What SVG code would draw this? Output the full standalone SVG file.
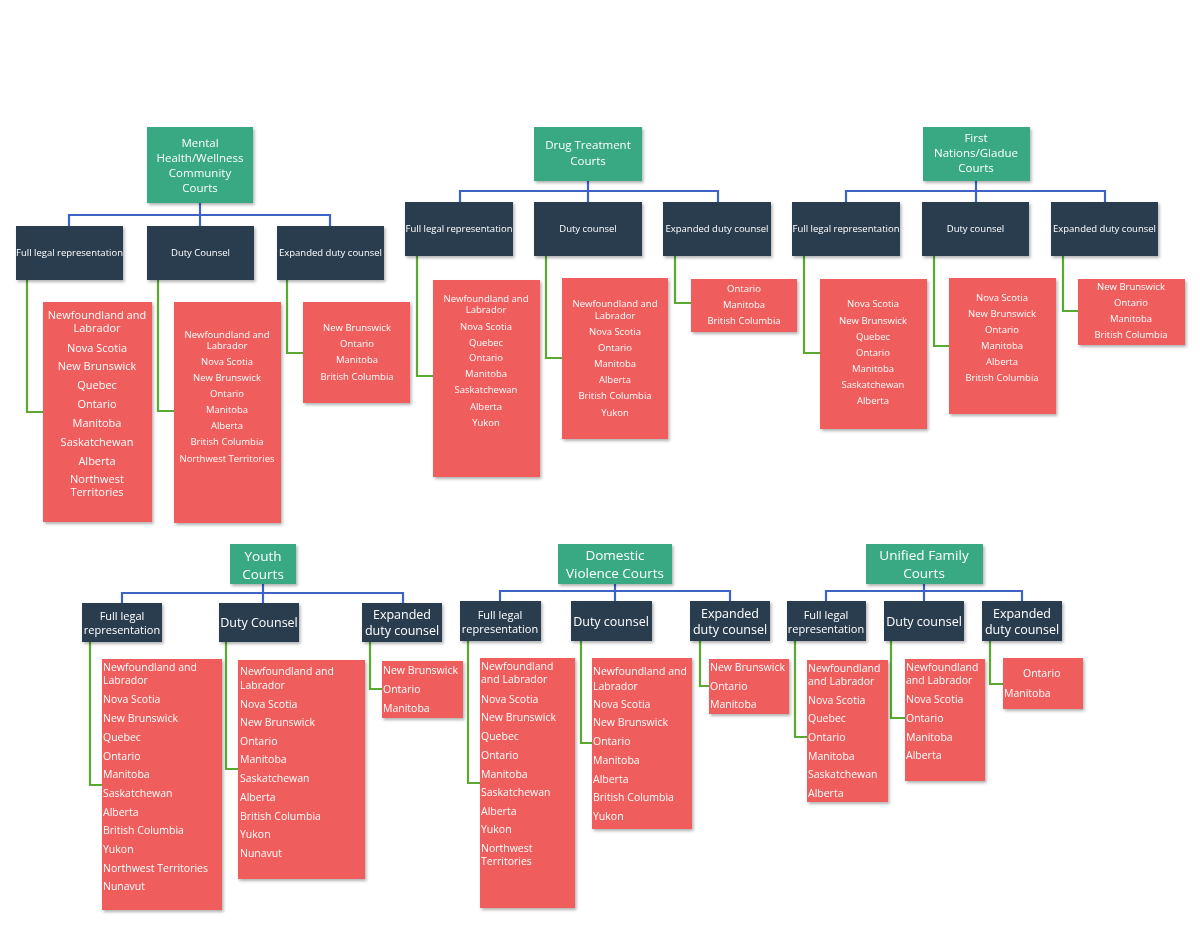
<svg xmlns="http://www.w3.org/2000/svg" width="1200" height="927" viewBox="0 0 1200 927">
<style>
text{font-family:"Open Sans","Noto Sans",sans-serif;fill:#fff}
.g{fill:#37a983}.n{fill:#2c3e50}.r{fill:#f05d5d}
.b{stroke:#3d63c6;stroke-width:2.2;fill:none}
.l{stroke:#5aaa32;stroke-width:2.2;fill:none}
.t1{font-size:11.5px;text-anchor:middle}
.t2{font-size:9.5px;text-anchor:middle}
.t3{font-size:10px;text-anchor:middle}
.t4{font-size:10.5px}
.t5{font-size:13.5px;text-anchor:middle}
.t6{font-size:12.5px;text-anchor:middle}
.t7{font-size:11px;text-anchor:middle}
</style>
<defs><filter id="s" x="-10%" y="-10%" width="130%" height="130%"><feDropShadow dx="1.5" dy="2" stdDeviation="1.5" flood-opacity="0.3"/></filter></defs>
<rect width="1200" height="927" fill="#fff"/>
<g id="connectors">
<path class="b" d="M200 203V215M69 226V215H330V226M200 215V226"/>
<path class="l" d="M27 280V412H43M158 280V411H174M287 280V353H303"/>
<path class="b" d="M588 181V191M460 202V191H718V202M588 191V202"/>
<path class="l" d="M417 256V376H433M546 256V358H562M675 256V303H691"/>
<path class="b" d="M976 181V191M846 202V191H1105V202M976 191V202"/>
<path class="l" d="M804 256V353H820M934 256V346H949M1063 256V311H1078"/>
<path class="b" d="M263 584V593M122 603V593H403V603M263 593V603"/>
<path class="l" d="M90 642V785H102M226 642V769H238M370 642V689H382"/>
<path class="b" d="M615 584V591M500 601V591H730V601M615 591V601"/>
<path class="l" d="M468 641V783H480M581 641V743H592M700 641V686H710"/>
<path class="b" d="M924 584V591M826 601V591H1022V601M924 591V601"/>
<path class="l" d="M795 641V737H807M891 641V718H905M990 641V684H1003"/>
</g>
<g id="mh" filter="url(#s)">
<rect class="g" x="147" y="127" width="106" height="76"/>
<text class="t1"><tspan x="200" y="147">Mental</tspan><tspan x="200" y="162">Health/Wellness</tspan><tspan x="200" y="177">Community</tspan><tspan x="200" y="192">Courts</tspan></text>
<rect class="n" x="16" y="226" width="107" height="54"/><text class="t2" x="69.5" y="256">Full legal representation</text>
<rect class="n" x="147" y="226" width="107" height="54"/><text class="t2" x="200.5" y="256">Duty Counsel</text>
<rect class="n" x="277" y="226" width="107" height="54"/><text class="t2" x="330.5" y="256">Expanded duty counsel</text>
<rect class="r" x="43" y="302" width="109" height="220"/>
<text class="t7"><tspan x="97" y="319">Newfoundland and</tspan><tspan x="97" y="332">Labrador</tspan><tspan x="97" y="352">Nova Scotia</tspan><tspan x="97" y="370">New Brunswick</tspan><tspan x="97" y="389">Quebec</tspan><tspan x="97" y="408">Ontario</tspan><tspan x="97" y="427">Manitoba</tspan><tspan x="97" y="446">Saskatchewan</tspan><tspan x="97" y="465">Alberta</tspan><tspan x="97" y="483">Northwest</tspan><tspan x="97" y="496">Territories</tspan></text>
<rect class="r" x="174" y="302" width="107" height="221"/>
<text class="t2"><tspan x="227" y="338">Newfoundland and</tspan><tspan x="227" y="349">Labrador</tspan><tspan x="227" y="365">Nova Scotia</tspan><tspan x="227" y="381">New Brunswick</tspan><tspan x="227" y="397">Ontario</tspan><tspan x="227" y="413">Manitoba</tspan><tspan x="227" y="429">Alberta</tspan><tspan x="227" y="445">British Columbia</tspan><tspan x="227" y="462">Northwest Territories</tspan></text>
<rect class="r" x="303" y="302" width="107" height="101"/>
<text class="t2"><tspan x="357" y="331">New Brunswick</tspan><tspan x="357" y="347">Ontario</tspan><tspan x="357" y="363">Manitoba</tspan><tspan x="357" y="380">British Columbia</tspan></text>
</g>
<g id="drug" filter="url(#s)">
<rect class="g" x="534" y="127" width="108" height="54"/>
<text class="t1"><tspan x="588" y="149">Drug Treatment</tspan><tspan x="588" y="165">Courts</tspan></text>
<rect class="n" x="405" y="202" width="108" height="54"/><text class="t2" x="459" y="232">Full legal representation</text>
<rect class="n" x="534" y="202" width="108" height="54"/><text class="t2" x="588" y="232">Duty counsel</text>
<rect class="n" x="663" y="202" width="108" height="54"/><text class="t2" x="717" y="232">Expanded duty counsel</text>
<rect class="r" x="433" y="280" width="107" height="197"/>
<text class="t2"><tspan x="486" y="302">Newfoundland and</tspan><tspan x="486" y="313">Labrador</tspan><tspan x="486" y="330">Nova Scotia</tspan><tspan x="486" y="346">Quebec</tspan><tspan x="486" y="361">Ontario</tspan><tspan x="486" y="377">Manitoba</tspan><tspan x="486" y="393">Saskatchewan</tspan><tspan x="486" y="410">Alberta</tspan><tspan x="486" y="426">Yukon</tspan></text>
<rect class="r" x="562" y="278" width="106" height="161"/>
<text class="t2"><tspan x="615" y="307">Newfoundland and</tspan><tspan x="615" y="319">Labrador</tspan><tspan x="615" y="335">Nova Scotia</tspan><tspan x="615" y="351">Ontario</tspan><tspan x="615" y="367">Manitoba</tspan><tspan x="615" y="383">Alberta</tspan><tspan x="615" y="399">British Columbia</tspan><tspan x="615" y="416">Yukon</tspan></text>
<rect class="r" x="691" y="279" width="106" height="53"/>
<text class="t2"><tspan x="744" y="292">Ontario</tspan><tspan x="744" y="308">Manitoba</tspan><tspan x="744" y="324">British Columbia</tspan></text>
</g>
<g id="fn" filter="url(#s)">
<rect class="g" x="923" y="127" width="107" height="54"/>
<text class="t1"><tspan x="976" y="142">First</tspan><tspan x="976" y="157">Nations/Gladue</tspan><tspan x="976" y="172">Courts</tspan></text>
<rect class="n" x="792" y="202" width="108" height="54"/><text class="t2" x="846" y="232">Full legal representation</text>
<rect class="n" x="922" y="202" width="107" height="54"/><text class="t2" x="975.5" y="232">Duty counsel</text>
<rect class="n" x="1051" y="202" width="107" height="54"/><text class="t2" x="1104.5" y="232">Expanded duty counsel</text>
<rect class="r" x="820" y="279" width="107" height="150"/>
<text class="t2"><tspan x="873" y="307">Nova Scotia</tspan><tspan x="873" y="324">New Brunswick</tspan><tspan x="873" y="340">Quebec</tspan><tspan x="873" y="356">Ontario</tspan><tspan x="873" y="372">Manitoba</tspan><tspan x="873" y="388">Saskatchewan</tspan><tspan x="873" y="404">Alberta</tspan></text>
<rect class="r" x="949" y="278" width="107" height="136"/>
<text class="t2"><tspan x="1002" y="301">Nova Scotia</tspan><tspan x="1002" y="317">New Brunswick</tspan><tspan x="1002" y="333">Ontario</tspan><tspan x="1002" y="349">Manitoba</tspan><tspan x="1002" y="365">Alberta</tspan><tspan x="1002" y="381">British Columbia</tspan></text>
<rect class="r" x="1078" y="279" width="107" height="66"/>
<text class="t2"><tspan x="1131" y="290">New Brunswick</tspan><tspan x="1131" y="306">Ontario</tspan><tspan x="1131" y="322">Manitoba</tspan><tspan x="1131" y="338">British Columbia</tspan></text>
</g>
<g id="youth" filter="url(#s)">
<rect class="g" x="230" y="544" width="66" height="40"/>
<text class="t5"><tspan x="263" y="561">Youth</tspan><tspan x="263" y="579">Courts</tspan></text>
<rect class="n" x="82" y="603" width="80" height="39"/><text class="t7"><tspan x="122" y="620">Full legal</tspan><tspan x="122" y="634">representation</tspan></text>
<rect class="n" x="219" y="603" width="80" height="39"/><text class="t6" x="259" y="627">Duty Counsel</text>
<rect class="n" x="362" y="603" width="80" height="39"/><text class="t6"><tspan x="402" y="619">Expanded</tspan><tspan x="402" y="635">duty counsel</tspan></text>
<rect class="r" x="102" y="659" width="120" height="251"/>
<text class="t4"><tspan x="103" y="671">Newfoundland and</tspan><tspan x="103" y="684">Labrador</tspan><tspan x="103" y="703">Nova Scotia</tspan><tspan x="103" y="722">New Brunswick</tspan><tspan x="103" y="741">Quebec</tspan><tspan x="103" y="760">Ontario</tspan><tspan x="103" y="778">Manitoba</tspan><tspan x="103" y="797">Saskatchewan</tspan><tspan x="103" y="816">Alberta</tspan><tspan x="103" y="834">British Columbia</tspan><tspan x="103" y="853">Yukon</tspan><tspan x="103" y="872">Northwest Territories</tspan><tspan x="103" y="890">Nunavut</tspan></text>
<rect class="r" x="238" y="660" width="127" height="219"/>
<text class="t4"><tspan x="240" y="675">Newfoundland and</tspan><tspan x="240" y="689">Labrador</tspan><tspan x="240" y="708">Nova Scotia</tspan><tspan x="240" y="726">New Brunswick</tspan><tspan x="240" y="745">Ontario</tspan><tspan x="240" y="763">Manitoba</tspan><tspan x="240" y="782">Saskatchewan</tspan><tspan x="240" y="801">Alberta</tspan><tspan x="240" y="820">British Columbia</tspan><tspan x="240" y="838">Yukon</tspan><tspan x="240" y="857">Nunavut</tspan></text>
<rect class="r" x="382" y="661" width="81" height="57"/>
<text class="t4"><tspan x="383" y="674">New Brunswick</tspan><tspan x="383" y="693">Ontario</tspan><tspan x="383" y="712">Manitoba</tspan></text>
</g>
<g id="dv" filter="url(#s)">
<rect class="g" x="558" y="544" width="114" height="40"/>
<text class="t5"><tspan x="615" y="560">Domestic</tspan><tspan x="615" y="578">Violence Courts</tspan></text>
<rect class="n" x="460" y="601" width="81" height="40"/><text class="t7"><tspan x="500" y="619">Full legal</tspan><tspan x="500" y="633">representation</tspan></text>
<rect class="n" x="571" y="601" width="81" height="40"/><text class="t6" x="611" y="626">Duty counsel</text>
<rect class="n" x="690" y="601" width="80" height="40"/><text class="t6"><tspan x="730" y="618">Expanded</tspan><tspan x="730" y="634">duty counsel</tspan></text>
<rect class="r" x="480" y="658" width="95" height="250"/>
<text class="t4"><tspan x="481" y="670">Newfoundland</tspan><tspan x="481" y="683">and Labrador</tspan><tspan x="481" y="703">Nova Scotia</tspan><tspan x="481" y="721">New Brunswick</tspan><tspan x="481" y="740">Quebec</tspan><tspan x="481" y="759">Ontario</tspan><tspan x="481" y="778">Manitoba</tspan><tspan x="481" y="796">Saskatchewan</tspan><tspan x="481" y="815">Alberta</tspan><tspan x="481" y="833">Yukon</tspan><tspan x="481" y="852">Northwest</tspan><tspan x="481" y="865">Territories</tspan></text>
<rect class="r" x="592" y="658" width="100" height="171"/>
<text class="t4"><tspan x="593" y="675">Newfoundland and</tspan><tspan x="593" y="690">Labrador</tspan><tspan x="593" y="708">Nova Scotia</tspan><tspan x="593" y="726">New Brunswick</tspan><tspan x="593" y="745">Ontario</tspan><tspan x="593" y="764">Manitoba</tspan><tspan x="593" y="783">Alberta</tspan><tspan x="593" y="801">British Columbia</tspan><tspan x="593" y="820">Yukon</tspan></text>
<rect class="r" x="709" y="659" width="80" height="55"/>
<text class="t4"><tspan x="710" y="671">New Brunswick</tspan><tspan x="710" y="690">Ontario</tspan><tspan x="710" y="708">Manitoba</tspan></text>
</g>
<g id="uf" filter="url(#s)">
<rect class="g" x="866" y="544" width="117" height="40"/>
<text class="t5"><tspan x="924" y="560">Unified Family</tspan><tspan x="924" y="578">Courts</tspan></text>
<rect class="n" x="787" y="601" width="79" height="40"/><text class="t7"><tspan x="826" y="619">Full legal</tspan><tspan x="826" y="633">representation</tspan></text>
<rect class="n" x="884" y="601" width="80" height="40"/><text class="t6" x="924" y="626">Duty counsel</text>
<rect class="n" x="982" y="601" width="80" height="40"/><text class="t6"><tspan x="1022" y="618">Expanded</tspan><tspan x="1022" y="634">duty counsel</tspan></text>
<rect class="r" x="807" y="660" width="81" height="142"/>
<text class="t4"><tspan x="808" y="672">Newfoundland</tspan><tspan x="808" y="685">and Labrador</tspan><tspan x="808" y="704">Nova Scotia</tspan><tspan x="808" y="722">Quebec</tspan><tspan x="808" y="741">Ontario</tspan><tspan x="808" y="760">Manitoba</tspan><tspan x="808" y="778">Saskatchewan</tspan><tspan x="808" y="797">Alberta</tspan></text>
<rect class="r" x="905" y="659" width="80" height="122"/>
<text class="t4"><tspan x="906" y="671">Newfoundland</tspan><tspan x="906" y="684">and Labrador</tspan><tspan x="906" y="703">Nova Scotia</tspan><tspan x="906" y="722">Ontario</tspan><tspan x="906" y="741">Manitoba</tspan><tspan x="906" y="759">Alberta</tspan></text>
<rect class="r" x="1003" y="658" width="80" height="51"/>
<text class="t4"><tspan x="1023" y="677">Ontario</tspan><tspan x="1004" y="697">Manitoba</tspan></text>
</g>
</svg>
